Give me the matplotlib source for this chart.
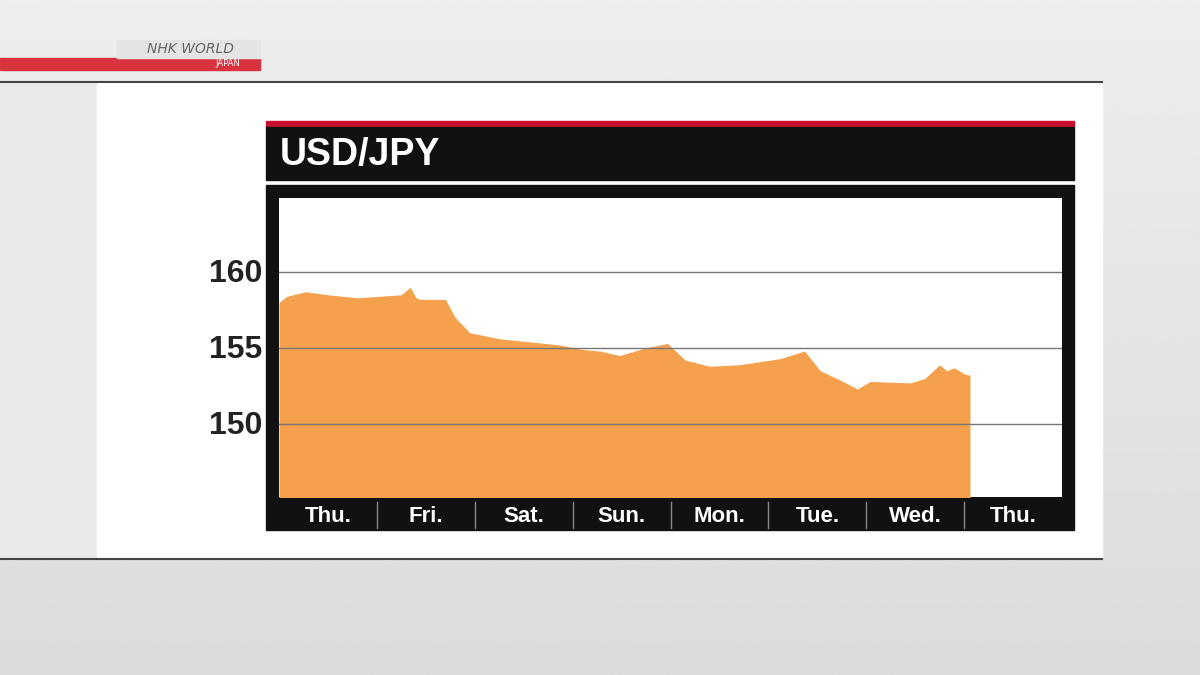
import matplotlib
matplotlib.use("Agg")
import matplotlib.pyplot as plt
from matplotlib.patches import Rectangle
import numpy as np

W, H = 1200, 675
days = ["Thu.", "Fri.", "Sat.", "Sun.", "Mon.", "Tue.", "Wed.", "Thu."]
yticks = [150, 155, 160]
# time in days since start, USD/JPY rate
t = [0.00, 0.08, 0.27, 0.50, 0.80, 1.03, 1.25, 1.34, 1.40, 1.44, 1.70, 1.80, 1.95,
     2.26, 2.87, 3.10, 3.28, 3.48, 3.74, 3.97, 4.15, 4.40, 4.71, 5.12, 5.37,
     5.53, 5.73, 5.91, 6.04, 6.45, 6.60, 6.75, 6.82, 6.90, 7.00, 7.06]
v = [158.0, 158.4, 158.7, 158.5, 158.3, 158.4, 158.5, 159.0, 158.3, 158.2, 158.2, 157.0, 156.0,
     155.6, 155.2, 154.9, 154.8, 154.5, 155.0, 155.3, 154.2, 153.8, 153.9, 154.3, 154.8,
     153.5, 152.9, 152.3, 152.8, 152.7, 153.0, 153.9, 153.5, 153.7, 153.3, 153.2]

fig = plt.figure(figsize=(W/100, H/100), dpi=100)
bg = fig.add_axes([0, 0, 1, 1]); bg.set_xlim(0, W); bg.set_ylim(H, 0); bg.axis("off")
grad = np.linspace(0.93, 0.86, 256).reshape(-1, 1)
bg.imshow(grad, extent=[0, W, H, 0], cmap="gray", vmin=0, vmax=1, aspect="auto")
bg.add_patch(Rectangle((0, 83), 1102, 475, color="#e9e9e9"))
bg.add_patch(Rectangle((97, 83), 1005, 475, color="white"))
bg.plot([0, 1102], [82, 82], color="#444", lw=1.5)
bg.plot([0, 1102], [559, 559], color="#444", lw=1.5)
bg.add_patch(Rectangle((0, 58), 260, 12, color="#d9333f"))
bg.add_patch(Rectangle((117, 40), 143, 18, color="#e4e4e4"))
bg.text(190, 49, "NHK WORLD", fontsize=10, ha="center", va="center", color="#666", style="italic")
bg.text(240, 64, "JAPAN", fontsize=6, ha="right", va="center", color="white")
bg.add_patch(Rectangle((266, 121), 808, 6, color="#c8102e"))
bg.add_patch(Rectangle((266, 127), 808, 53, color="#111"))
bg.text(280, 155, "USD/JPY", fontsize=27, color="white", va="center", ha="left",
        family="Liberation Sans", weight="bold")
bg.add_patch(Rectangle((266, 185), 808, 345, color="#111"))
dw = (1062 - 279) / 8
for i, d in enumerate(days):
    bg.text(279 + dw*(i+0.5), 516, d, fontsize=16, color="white", ha="center", va="center",
            family="Liberation Sans", weight="bold")
    if i > 0:
        bg.plot([279 + dw*i]*2, [502, 528], color="#888", lw=1)
for y in yticks:
    py = 274 + (160 - y) * 15.2
    bg.text(262, py, str(y), fontsize=23, color="#222", ha="right", va="center",
            family="Liberation Sans", weight="bold")

ax = fig.add_axes([279/W, 1 - 497/H, (1062-279)/W, (497-198)/H])
ax.set_xlim(0, 8)
ax.set_ylim(150 - 73/15.2, 160 + 74/15.2)
ax.fill_between(t, v, 140, color="#f4a04c", lw=0)
for y in yticks:
    ax.axhline(y, color="#777", lw=1)
ax.set_xticks([]); ax.set_yticks([])
for s in ax.spines.values(): s.set_visible(False)
fig.savefig("out.png", dpi=100)
